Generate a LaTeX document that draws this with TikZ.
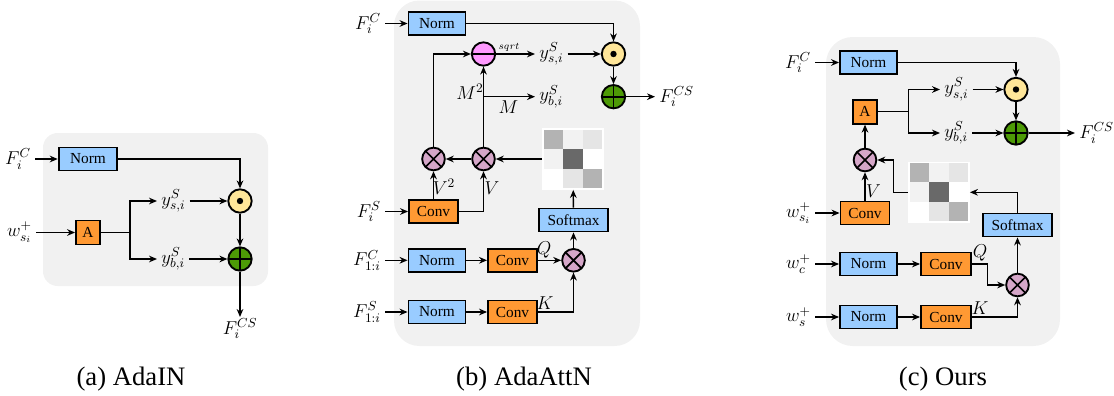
\RequirePackage{fix-cm}
\documentclass[tikz,border=0pt]{standalone}
\usepackage[no-math]{fontspec}
\setmainfont{Liberation Serif}
\usetikzlibrary{arrows.meta}

\definecolor{normblue}{HTML}{99CCFF}
\definecolor{convorange}{HTML}{FF9933}
\definecolor{dotyellow}{HTML}{FFE699}
\definecolor{plusgreen}{HTML}{4D9A06}
\definecolor{timesmauve}{HTML}{D5A6C8}
\definecolor{minuspink}{HTML}{FF99FF}
\definecolor{panelgray}{HTML}{F1F1F1}
\definecolor{cellA}{HTML}{B3B3B3}
\definecolor{cellB}{HTML}{F2F2F2}
\definecolor{cellC}{HTML}{E5E5E5}
\definecolor{cellD}{HTML}{696969}

\tikzset{
  box/.style={draw=black, line width=1.4pt, inner sep=0pt, minimum height=17.25pt,
    font=\fontsize{11.5}{13}\selectfont},
  normbox/.style={box, fill=normblue, minimum width=42.75pt},
  convbox/.style={box, fill=convorange, minimum width=36.75pt},
  abox/.style={box, fill=convorange, minimum width=18pt, minimum height=18pt},
  softbox/.style={box, fill=normblue, minimum width=51.5pt},
  op/.style={circle, draw=black, line width=1.4pt, inner sep=0pt, minimum size=17.5pt},
  odot/.style={op, fill=dotyellow,
    path picture={\fill[black] (path picture bounding box.center) circle (2.4pt);}},
  oplus/.style={op, fill=plusgreen,
    path picture={\draw[black, line width=1.3pt]
      (path picture bounding box.north) -- (path picture bounding box.south)
      (path picture bounding box.west) -- (path picture bounding box.east);}},
  otimes/.style={op, fill=timesmauve, minimum size=17pt,
    path picture={\draw[black, line width=1.3pt]
      (path picture bounding box.north west) -- (path picture bounding box.south east)
      (path picture bounding box.north east) -- (path picture bounding box.south west);}},
  ominus/.style={op, fill=minuspink,
    path picture={\draw[black, line width=1.3pt]
      (path picture bounding box.west) -- (path picture bounding box.east);}},
  lbl/.style={inner xsep=3pt, inner ysep=1pt, font=\fontsize{14}{16}\selectfont},
  tag/.style={inner sep=0pt, font=\fontsize{14}{16}\selectfont},
  tinytag/.style={inner sep=0pt, font=\fontsize{7.5}{9}\selectfont},
  conn/.style={line width=1pt, -{Stealth[length=6pt, width=5pt]}},
  wire/.style={line width=1pt},
  panel/.style={fill=panelgray},
  heat/.style={fill=white, inner sep=0pt, minimum size=46pt},
  caption/.style={font=\fontsize{20}{22}\selectfont},
}

% 3x3 attention map drawn inside a heat node
\newcommand\heatgrid[1]{%
  \begin{scope}[shift={(#1.north west)}]
    \foreach \cellcol [count=\k from 0] in
        {cellA,cellB,cellC,cellB,cellD,white,white,cellC,cellA}{
      \pgfmathtruncatemacro\hcol{mod(\k,3)}
      \pgfmathtruncatemacro\hrow{div(\k,3)}
      \fill[fill=\cellcol] (1.5+19.5*\hcol, 1.5+19.5*\hrow) rectangle ++(19.5,19.5);
    }
  \end{scope}}

\begin{document}
\begin{tikzpicture}[x=0.75pt, y=-0.75pt]
\useasboundingbox (0,0) rectangle (1114,396);

% ---------------- (a) AdaIN ----------------
\fill[panel, rounded corners=11pt] (43,133) rectangle (268,286);
\node[normbox, minimum width=44pt] (aN) at (88,159) {Norm};
\node[lbl, anchor=east] (aF) at (35,159) {$F_i^C$};
\node[odot] (aDot) at (240,201) {};
\node[oplus] (aPlus) at (240,259) {};
\node[abox] (aA) at (88,232.5) {A};
\node[lbl, anchor=east] (aW) at (36,232.5) {$w_{s_i}^{+}$};
\coordinate (aSplit) at (130,232.5);
\node[lbl, anchor=west] (aYs) at (157,201) {$y^S_{s,i}$};
\node[lbl, anchor=west] (aYb) at (157,259) {$y^S_{b,i}$};
\node[lbl, anchor=north] (aOut) at (240,317) {$F_i^{CS}$};

\draw[conn] (aF) -- (aN);
\draw[conn] (aN) -| (aDot);
\draw[conn] (aW) -- (aA);
\draw[wire] (aA) -- (aSplit);
\draw[conn] (aSplit) |- (aYs);
\draw[conn] (aSplit) |- (aYb);
\draw[conn] (aYs) -- (aDot);
\draw[conn] (aYb) -- (aPlus);
\draw[conn] (aDot) -- (aPlus);
\draw[conn] (aPlus) -- (aOut);

% ---------------- (b) AdaAttN ----------------
\fill[panel, rounded corners=19pt] (394,0.5) rectangle (640,346);
\node[normbox] (bN) at (437,23.5) {Norm};
\node[lbl, anchor=east] (bF) at (385,23.5) {$F_i^C$};
\node[odot] (bDot) at (613.5,54) {};
\node[ominus] (bMinus) at (483.5,54) {};
\node[tinytag] (bSqrt) at (509,47.5) {$sqrt$};
\node[lbl, anchor=west] (bYs) at (535,54) {$y^S_{s,i}$};
\node[oplus] (bPlus) at (613.5,96.7) {};
\node[lbl, anchor=west] (bOut) at (655,96.7) {$F_i^{CS}$};
\node[lbl, anchor=west] (bYb) at (535,96.7) {$y^S_{b,i}$};
\node[tag] (bM2) at (470,92) {$M^2$};
\node[tag] (bM) at (508.5,107) {$M$};
\node[otimes] (bX1) at (433.5,159) {};
\node[otimes] (bX2) at (483.5,159) {};
\node[heat] (bMat) at (573,159) {};
\heatgrid{bMat}
\node[tag] (bV2) at (444,187) {$V^2$};
\node[tag] (bV) at (492,188) {$V$};
\node[convbox] (bConvV) at (433.5,211.5) {Conv};
\node[lbl, anchor=east] (bFS) at (385,211.5) {$F_i^S$};
\node[softbox] (bSoft) at (573.5,220) {Softmax};
\node[lbl, anchor=east] (bFC1) at (385,260.3) {$F_{1:i}^C$};
\node[normbox] (bN2) at (437,260.3) {Norm};
\node[convbox] (bCQ) at (512.5,260.3) {Conv};
\node[tag] (bQ) at (544,249.5) {$Q$};
\node[otimes] (bX3) at (573.5,260.3) {};
\node[lbl, anchor=east] (bFS1) at (385,312) {$F_{1:i}^S$};
\node[normbox] (bN3) at (437,312) {Norm};
\node[convbox] (bCK) at (512.5,312) {Conv};
\node[tag] (bK) at (545,303.5) {$K$};

\draw[conn] (bF) -- (bN);
\draw[conn] (bN) -| (bDot);
\draw[conn] (bMinus) -- (bYs);
\draw[conn] (bYs) -- (bDot);
\draw[conn] (bDot) -- (bPlus);
\draw[conn] (bPlus) -- (bOut);
\draw[conn] (bX2) -- (bMinus);
\draw[conn] (bX2 |- bYb) -- (bYb);
\draw[conn] (bX1) |- (bMinus);
\draw[conn] (bX2) -- (bX1);
\draw[conn] (bMat) -- (bX2);
\draw[conn] (bFS) -- (bConvV);
\draw[conn] (bConvV) -- (bX1);
\draw[conn] (bConvV) -| (bX2);
\draw[conn] (bSoft) -- (bMat);
\draw[conn] (bFC1) -- (bN2);
\draw[conn] (bN2) -- (bCQ);
\draw[conn] (bCQ) -- (bX3);
\draw[conn] (bX3) -- (bSoft);
\draw[conn] (bFS1) -- (bN3);
\draw[conn] (bN3) -- (bCK);
\draw[conn] (bCK) -| (bX3);

% ---------------- (c) Ours ----------------
\fill[panel, rounded corners=20pt] (826,37) rectangle (1060,346);
\node[normbox] (cN) at (868.5,62.5) {Norm};
\node[lbl, anchor=east] (cF) at (815,62.5) {$F_i^C$};
\node[odot] (cDot) at (1016,89.5) {};
\node[oplus] (cPlus) at (1016,133) {};
\node[lbl, anchor=west] (cOut) at (1075,133) {$F_i^{CS}$};
\node[abox] (cA) at (865,111.7) {A};
\coordinate (cSplit) at (908.3,111.7);
\node[lbl, anchor=west] (cYs) at (940,89.5) {$y^S_{s,i}$};
\node[lbl, anchor=west] (cYb) at (940,133) {$y^S_{b,i}$};
\node[otimes] (cX1) at (865,160) {};
\node[heat] (cMat) at (939,192.3) {};
\heatgrid{cMat}
\coordinate (cBend) at (893.3,192.3);
\node[tag] (cV) at (873.5,191) {$V$};
\node[convbox] (cConvV) at (865,213) {Conv};
\node[lbl, anchor=east] (cW) at (815,213) {$w_{s_i}^{+}$};
\node[softbox, minimum width=52pt] (cSoft) at (1017.5,225) {Softmax};
\node[lbl, anchor=east] (cWc) at (815,264) {$w_c^{+}$};
\node[normbox] (cN2) at (868.5,264) {Norm};
\node[convbox, minimum width=37.5pt] (cCQ) at (946,264) {Conv};
\node[tag] (cQ) at (980,253) {$Q$};
\coordinate (cQb) at (987.7,264);
\node[otimes] (cX2) at (1017.5,285) {};
\node[lbl, anchor=east] (cWs) at (815,317) {$w_s^{+}$};
\node[normbox] (cN3) at (868.5,317) {Norm};
\node[convbox, minimum width=37.5pt] (cCK) at (946,317) {Conv};
\node[tag] (cK) at (980,308) {$K$};

\draw[conn] (cF) -- (cN);
\draw[conn] (cN) -| (cDot);
\draw[conn] (cDot) -- (cPlus);
\draw[conn] (cPlus) -- (cOut);
\draw[conn] (cYs) -- (cDot);
\draw[conn] (cYb) -- (cPlus);
\draw[wire] (cA) -- (cSplit);
\draw[conn] (cSplit) |- (cYs);
\draw[conn] (cSplit) |- (cYb);
\draw[conn] (cX1) -- (cA);
\draw[conn] (cMat) -- (cBend) |- (cX1);
\draw[conn] (cW) -- (cConvV);
\draw[conn] (cConvV) -- (cX1);
\draw[conn] (cSoft) |- (cMat);
\draw[conn] (cWc) -- (cN2);
\draw[conn] (cN2) -- (cCQ);
\draw[conn] (cCQ) -- (cQb) |- (cX2);
\draw[conn] (cX2) -- (cSoft);
\draw[conn] (cWs) -- (cN3);
\draw[conn] (cN3) -- (cCK);
\draw[conn] (cCK) -| (cX2);

% ---------------- captions ----------------
\node[caption] (capA) at (131,379) {(a) AdaIN};
\node[caption] (capB) at (524,379) {(b) AdaAttN};
\node[caption] (capC) at (943,379) {(c) Ours};
\end{tikzpicture}
\end{document}
